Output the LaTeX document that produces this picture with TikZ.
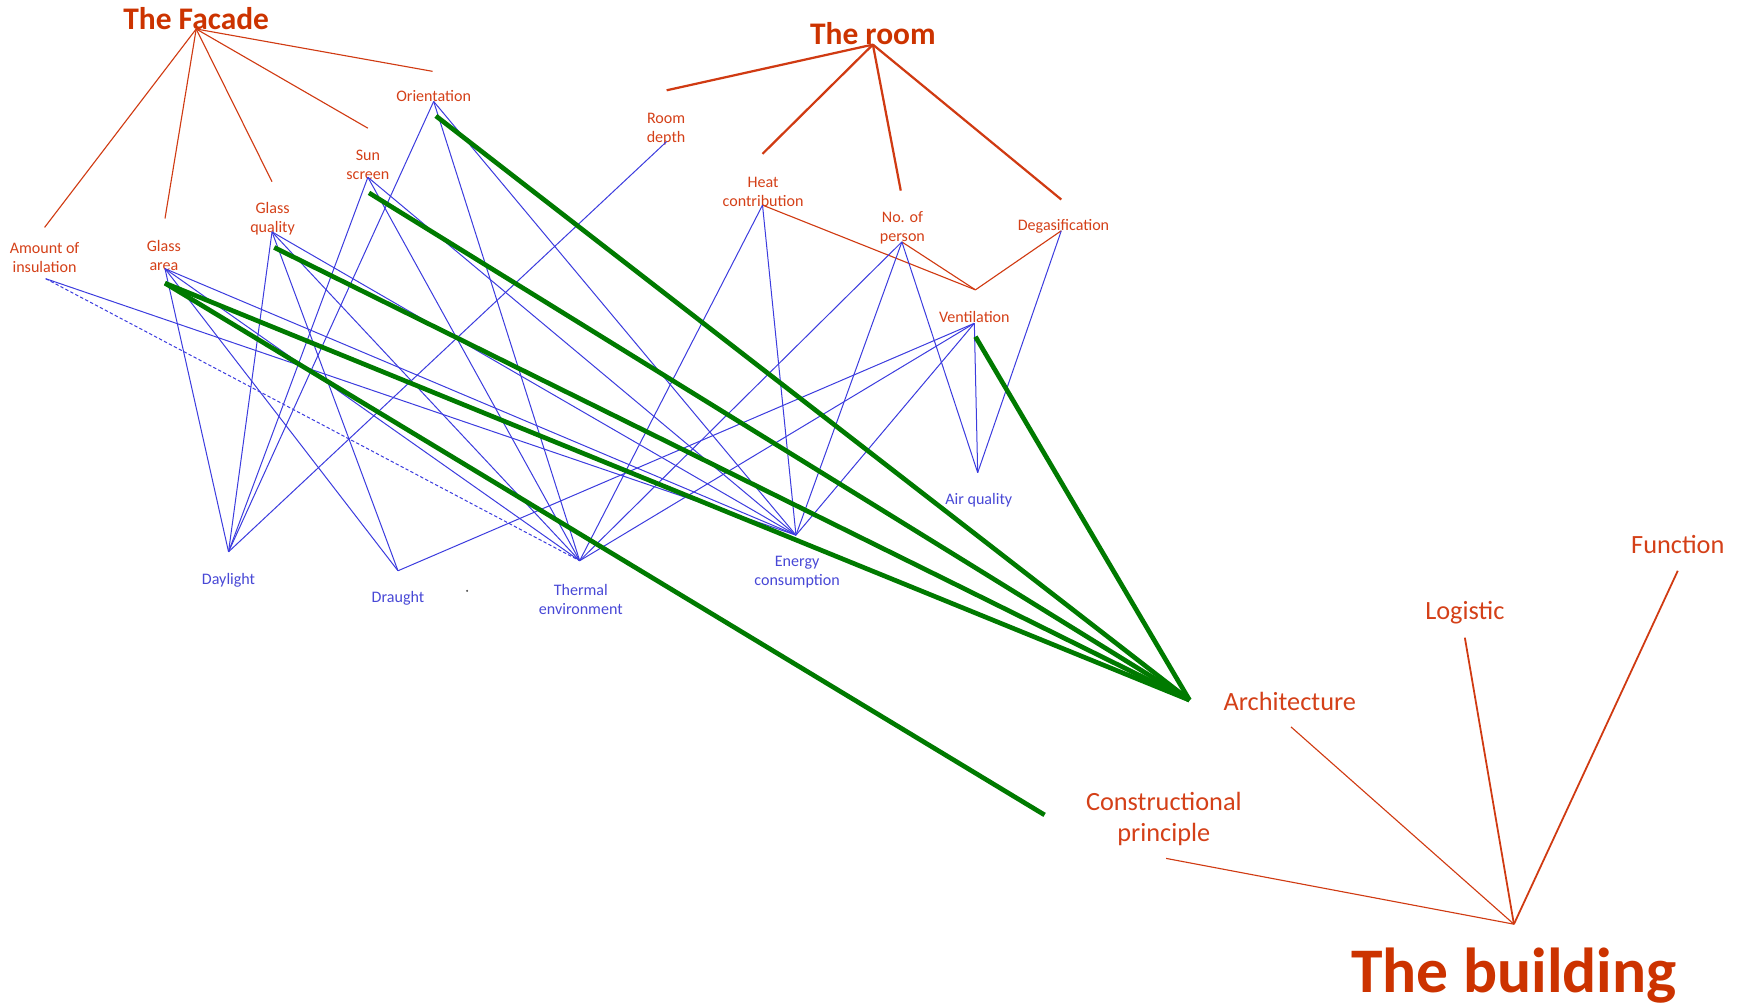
\documentclass[tikz,border=0pt]{standalone}
\usepackage{fontspec}
\setmainfont{Carlito}
\definecolor{tred}{RGB}{204,51,0}
\definecolor{lred}{RGB}{212,64,24}
\definecolor{lnred}{RGB}{208,58,18}
\definecolor{bl}{RGB}{60,60,222}
\definecolor{bltxt}{RGB}{72,72,214}
\definecolor{gr}{RGB}{0,122,0}
\begin{document}
\begin{tikzpicture}[x=0.5pt,y=-0.5pt,
  title/.style={text=tred, font=\bfseries\fontsize{14.1}{16}\selectfont, inner sep=0},
  bigtitle/.style={text=tred, font=\bfseries\fontsize{28.5}{32}\selectfont, inner sep=0},
  lab/.style={text=lred, font=\fontsize{7.2}{8.5}\selectfont, align=center, inner sep=0},
  blab/.style={text=bltxt, font=\fontsize{7.2}{8.5}\selectfont, align=center, inner sep=0},
  mlab/.style={text=lred, font=\fontsize{11.8}{14}\selectfont, align=center, inner sep=0},
  fline/.style={draw=lnred, line width=0.5pt},
  rline/.style={draw=lnred, line width=1pt},
  bthin/.style={draw=lnred, line width=0.5pt},
  bthick/.style={draw=lnred, line width=0.8pt},
  bline/.style={draw=bl, line width=0.45pt},
  bdash/.style={draw=bl, line width=0.45pt, dash pattern=on 1.5pt off 1pt},
  gline/.style={draw=gr, line width=2.1pt},
  speck/.style={circle, fill=black!70, inner sep=0, minimum size=1pt}
]
\useasboundingbox (0,0) rectangle (1568,903);

% ---- titles
\node[title] (FT) at (176,17) {The Facade};
\node[title] (RT) at (783,30) {The room};
\node[bigtitle] (BT) at (1358,875) {The building};

% ---- labels
\node[lab] (lOR) at (389,86) {Orientation};
\node[lab] (lSS) at (330,148) {Sun\\screen};
\node[lab] (lGQ) at (244.5,196) {Glass\\quality};
\node[lab] (lGA) at (147,229) {Glass\\area};
\node[lab] (lAI) at (40,231) {Amount of\\insulation};
\node[lab] (lRD) at (597.5,115.5) {Room\\depth};
\node[lab] (lHC) at (684.5,172) {Heat\\contribution};
\node[lab] (lNP) at (809.5,204) {No. of\\person};
\node[lab] (lDG) at (954,203) {Degasification};
\node[lab] (lVE) at (874,284.5) {Ventilation};
\node[blab] (lDL) at (205,520.5) {Daylight};
\node[blab] (lDR) at (357,536.5) {Draught};
\node[blab] (lTE) at (521,537.5) {Thermal\\environment};
\node[blab] (lEC) at (715,513.5) {Energy\\consumption};
\node[blab] (lAQ) at (878,448.5) {Air quality};
\node[mlab] (lFU) at (1505,488) {Function};
\node[mlab] (lLO) at (1314,550) {Logistic};
\node[mlab] (lAR) at (1157,629) {Architecture};
\node[mlab] (lCP) at (1044,734.5) {Constructional\\principle};
\node[speck] (dot) at (419,530) {};

% ---- hubs and line ends
\coordinate (F0) at (176,26);
\coordinate (fAI) at (40,204);
\coordinate (fGA) at (148,196);
\coordinate (fGQ) at (244,163);
\coordinate (fSS) at (330,115);
\coordinate (fOR) at (388,64);

\coordinate (R0) at (783,40);
\coordinate (rRD) at (598,81);
\coordinate (rHC) at (684,138);
\coordinate (rNP) at (808,171);
\coordinate (rDG) at (952,179);

\coordinate (B0) at (1358,829);
\coordinate (bFU) at (1505,512);
\coordinate (bLO) at (1314,572);
\coordinate (bAR) at (1158,652);
\coordinate (bCP) at (1046,770);

% ---- connection points
\coordinate (pAI) at (41,250);
\coordinate (pGA) at (148,241);
\coordinate (pGQ) at (244,208);
\coordinate (pSS) at (330,159);
\coordinate (pOR) at (389,91);
\coordinate (pRD) at (598,127);
\coordinate (pHC) at (684,184);
\coordinate (pNP) at (809,217);
\coordinate (pDG) at (952,207);
\coordinate (pVE) at (874,290);
\coordinate (pV) at (875,260);
\coordinate (pDL) at (205,495);
\coordinate (pDR) at (357,512);
\coordinate (pTE) at (520,503);
\coordinate (pEC) at (714,480);
\coordinate (pAQ) at (877,424);

% ---- green starts / ends
\coordinate (gOR) at (391,104);
\coordinate (gSS) at (331,173);
\coordinate (gGQ) at (246,222);
\coordinate (gGA) at (148,254);
\coordinate (gVE) at (875,302);
\coordinate (gAR) at (1067,628);
\coordinate (gCP) at (937,731);

% ---- facade tree
\foreach \e in {fAI,fGA,fGQ,fSS,fOR} \draw[fline] (F0) -- (\e);
% ---- room tree
\foreach \e in {rRD,rHC,rNP,rDG} \draw[rline] (R0) -- (\e);
% ---- building tree
\draw[bthin] (B0) -- (bCP);
\draw[bthin] (B0) -- (bAR);
\draw[bthick] (B0) -- (bLO);
\draw[bthick] (B0) -- (bFU);
% ---- ventilation V
\draw[fline] (pHC) -- (pV);
\draw[fline] (pNP) -- (pV);
\draw[fline] (pDG) -- (pV);

% ---- blue links
\draw[bline] (pAI) -- (pEC);
\draw[bdash] (pAI) -- (pTE);
\foreach \t in {pDL,pDR,pTE,pEC} \draw[bline] (pGA) -- (\t);
\foreach \t in {pDL,pDR,pTE,pEC} \draw[bline] (pGQ) -- (\t);
\foreach \t in {pDL,pTE,pEC} \draw[bline] (pSS) -- (\t);
\foreach \t in {pDL,pTE,pEC} \draw[bline] (pOR) -- (\t);
\draw[bline] (pRD) -- (pDL);
\foreach \t in {pTE,pEC} \draw[bline] (pHC) -- (\t);
\foreach \t in {pTE,pEC,pAQ} \draw[bline] (pNP) -- (\t);
\draw[bline] (pDG) -- (pAQ);
\foreach \t in {pDR,pTE,pEC,pAQ} \draw[bline] (pVE) -- (\t);

% ---- green links
\draw[gline] (gOR) -- (gAR);
\draw[gline] (gSS) -- (gAR);
\draw[gline] (gGQ) -- (gAR);
\draw[gline] (gGA) -- (gAR);
\draw[gline] (gGA) -- (gCP);
\draw[gline] (gVE) -- (gAR);
\end{tikzpicture}
\end{document}
